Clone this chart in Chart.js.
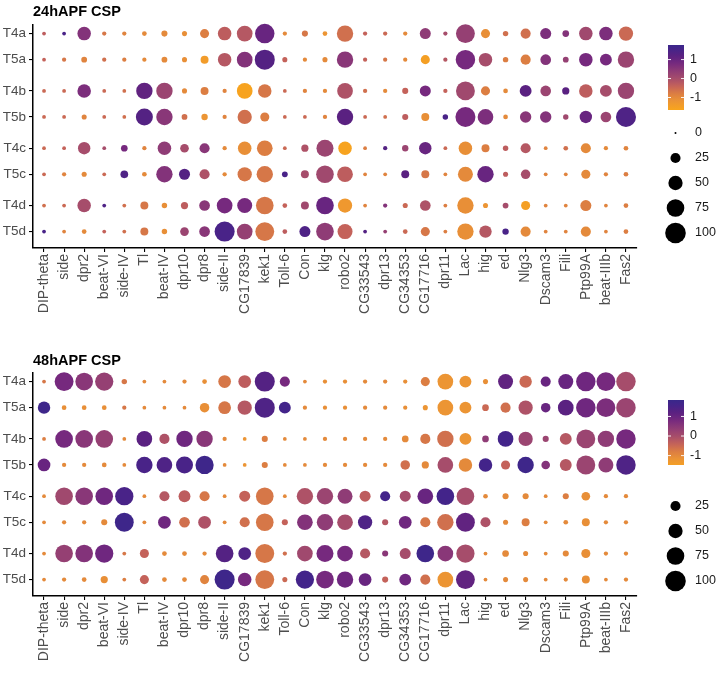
<!DOCTYPE html>
<html><head><meta charset="utf-8">
<script src="https://cdn.jsdelivr.net/npm/chart.js@4.4.0/dist/chart.umd.min.js"></script>
<style>html,body{margin:0;padding:0;background:#fff;overflow:hidden;}
#c1{position:absolute;left:0;top:0;} #c2{position:absolute;left:0;top:338px;}</style>
</head><body>
<canvas id="c1" width="718" height="338"></canvas>
<canvas id="c2" width="718" height="338"></canvas>
<script>
// ---------- categories ----------
const genes = ['DIP-theta','side','dpr2','beat-VI','side-IV','Tl','beat-IV','dpr10','dpr8','side-II','CG17839','kek1','Toll-6','Con','klg','robo2','CG33543','dpr13','CG34353','CG17716','dpr11','Lac','hig','ed','Nlg3','Dscam3','Fili','Ptp99A','beat-IIIb','Fas2'];
const cellTypes = ['T4a','T5a','T4b','T5b','T4c','T5c','T4d','T5d'];
const colorTicks = [1, 0, -1];
const sizeBreaks24 = [0, 25, 50, 75, 100];
const sizeBreaks48 = [25, 50, 75, 100];

// ---------- 24hAPF: percent expressed ----------
const pct24_T4a = [2,2,45,3,3,4,8,5,20,45,60,90,3,8,4,65,3,3,3,30,3,85,20,6,25,30,10,45,45,50];
const pct24_T5a = [2,3,7,3,3,3,7,5,15,45,60,95,5,3,5,65,3,3,3,20,3,90,45,6,25,28,7,45,35,65];
const pct24_T4b = [2,2,45,2,2,65,65,5,15,3,60,45,2,3,3,60,3,3,8,30,3,85,20,4,35,28,12,45,35,65];
const pct24_T5b = [2,2,5,2,2,70,65,7,9,3,50,20,2,2,3,65,2,2,8,15,6,95,60,4,32,32,6,38,28,95];
const pct24_T4c = [2,2,38,2,10,3,45,18,25,3,45,60,2,12,70,45,2,3,9,38,2,45,15,6,25,2,4,25,3,4];
const pct24_T5c = [2,3,5,2,14,4,65,30,25,3,50,65,7,15,75,60,2,2,15,15,2,55,65,5,22,2,2,20,3,4];
const pct24_T4d = [2,2,45,2,2,15,6,12,28,60,55,75,4,15,75,50,2,3,5,28,2,65,5,7,20,2,2,30,2,4];
const pct24_T5d = [2,2,4,2,2,15,6,18,28,95,60,85,4,30,75,55,2,2,4,20,2,65,38,9,25,2,2,25,2,4];
// ---------- 24hAPF: scaled average expression ----------
const avg24_T4a = [-0.3,1.5,0.6,-0.7,-0.9,-1,-1,-1.1,-0.8,-0.3,-0.2,1.0,-1,-0.7,-1.2,-0.6,-0.4,-0.5,-1,0.4,0,0.3,-1.1,-0.6,-0.6,0.7,0.6,0.1,0.7,-0.5];
const avg24_T5a = [-0.4,-0.7,-0.9,-0.6,-0.8,-1,-1,-1.1,-1.4,-0.2,0.6,1.3,-0.4,-1,-1,0.5,-0.4,-0.7,-1,-1.5,-0.2,0.8,0,-0.8,-0.8,0.6,0.3,0.8,0.8,0.2];
const avg24_T4b = [-0.5,-0.5,0.7,-0.5,-0.6,1.1,0.2,-1,-0.8,-0.9,-1.6,-0.7,-0.5,-0.9,-1,-0.1,-0.6,-1,-0.4,0.8,-0.4,0.1,-0.8,-1,1.2,0.2,1.2,-0.3,0,0.2];
const avg24_T5b = [-0.5,-0.5,-0.9,-0.5,-0.6,1.3,0.5,-0.6,-1.2,-0.9,-0.6,-0.8,-0.5,-0.5,-0.9,1.2,-0.5,-0.6,-0.3,-1.1,1.5,0.8,0.7,-1,0.5,0.6,0.1,1.0,0.2,1.4];
const avg24_T4c = [-0.5,-0.4,0,0,0.8,-0.9,0.4,0,0.5,-1,-1.1,-0.8,-0.5,-0.1,0.2,-1.6,-0.8,1.3,0.2,1.0,-0.5,-1.1,-0.8,-0.3,-0.2,-0.9,-0.6,-1.0,-1,-0.9];
const avg24_T5c = [-0.5,-0.9,-1,-0.5,1.4,-1,0.6,1.3,-0.1,-1,-0.7,-0.7,1.5,0,0.1,-0.3,-0.9,-0.9,1.2,-0.7,-0.9,-1.0,1.0,-0.3,0,-0.9,-0.9,-1,-0.9,-0.8];
const avg24_T4d = [-0.6,-0.5,0,1.4,-0.6,-0.7,-1.1,-0.3,0.5,0.8,0.8,-0.7,-0.4,0.1,1.0,-1.3,-0.9,0.6,-0.5,-0.1,-0.8,-1.1,-1.2,0,-1.5,-0.9,-0.9,-0.8,-0.9,-0.8];
const avg24_T5d = [1.5,-0.9,-1,-0.4,-0.6,-0.7,-1.1,0.2,0.5,1.5,0.3,-0.7,-0.3,1.4,0.4,-0.4,1.3,0.3,-0.5,-0.7,-0.8,-1.1,-0.2,1.5,-1,-0.9,-0.9,-1,-0.9,-0.8];

// ---------- 48hAPF: percent expressed ----------
const pct48_T4a = [2,85,75,80,6,2,2,3,4,40,40,95,25,2,3,3,3,3,3,20,60,35,5,55,38,25,55,90,85,90];
const pct48_T5a = [38,4,4,4,3,2,2,2,22,40,50,95,35,3,3,3,3,3,3,5,60,35,10,25,50,22,60,90,85,90];
const pct48_T4b = [2,75,75,75,2,60,25,65,65,3,2,8,2,2,3,3,3,3,10,25,65,35,10,60,50,8,35,85,65,90];
const pct48_T5b = [40,3,3,4,2,65,60,70,80,2,2,8,2,2,3,3,3,3,22,12,60,45,45,20,65,18,35,85,55,90];
const pct48_T4c = [2,75,75,75,80,2,25,35,25,2,30,75,2,65,65,55,30,25,30,60,75,75,4,8,8,2,8,18,3,3];
const pct48_T5c = [2,3,3,8,85,2,40,28,40,2,25,75,8,60,65,60,50,8,40,25,65,85,25,5,15,2,4,15,3,3];
const pct48_T4d = [2,75,75,80,2,20,4,4,3,75,40,85,3,60,70,60,25,8,30,75,60,80,2,10,5,2,8,20,3,3];
const pct48_T5d = [2,3,4,12,2,20,4,4,20,95,45,85,5,80,75,65,40,8,35,25,60,85,2,5,5,2,3,15,2,3];
// ---------- 48hAPF: scaled average expression ----------
const avg48_T4a = [-0.7,0.8,0.5,0.3,-0.7,-1,-1,-1,-1.1,-0.7,-0.3,1.3,0.8,-1,-1.1,-1.1,-1,-1,-1.1,-0.8,-1.2,-1.2,-1.1,1.1,-0.5,1.0,1.0,0.9,0.8,0.0];
const avg48_T5a = [1.7,-1.1,-1.1,-1.1,-0.7,-1,-1,-1,-1.1,-0.7,-0.2,1.4,1.6,-1,-1.1,-1.1,-1,-1,-1.1,-1.2,-1.2,-1.2,-0.5,-0.6,-0.1,1.0,1.2,0.9,0.7,0.2];
const avg48_T4b = [-0.8,0.8,0.5,0.3,-1,1.2,-0.1,0.9,0.5,-1,-1.2,-0.8,-1,-1,-1,-1,-1,-1,-1,-0.7,-0.6,-1.2,0.4,1.6,0.2,0.2,-0.2,0.2,0.4,0.8];
const avg48_T5b = [1.0,-1,-1,-1,-1,1.5,1.4,1.5,1.7,-1,-1.2,-0.8,-1,-1,-1,-1,-1,-1,-0.6,-1,0.0,-1,1.6,-0.4,1.7,0.6,-0.2,0.2,0.4,1.4];
const avg48_T4c = [-1,0.1,0.5,0.9,1.5,-1,-0.2,-0.3,-0.7,-1,-0.4,-0.7,-1,-0.1,0.2,0.4,-0.3,1.6,0,1.0,1.6,0,-1,-1,-1,-1,-0.8,-1.1,-1,-1];
const avg48_T5c = [-1,-1,-1,-1,1.7,-1,0.9,-0.6,-0.1,-1,-0.6,-0.7,-0.4,0.6,0.4,0,1.4,-0.2,0.9,-0.7,-0.6,1.1,-0.1,-1,-0.8,-1,-1,-1.1,-1,-1];
const avg48_T4d = [-1,0.3,0.6,0.9,-0.7,-0.4,-1,-1,-1,1.3,1.4,-0.7,-0.6,0.1,0.8,0.8,-0.2,0.5,0,1.7,0.5,0,-1,-1,-1,-1,-1,-1.1,-1,-1];
const avg48_T5d = [-1,-1,-1,-1.1,-0.8,-0.4,-1,-1,-0.9,1.7,0.8,-0.7,-0.5,1.6,0.8,0.9,1.0,-0.4,0.9,-0.6,-1.2,1.1,-1,-1,-1,-1,-1,-1.1,-1,-1];

// ---------- styling helpers ----------
const pal = [[-1.7,'#FAA61A'],[-1.2,'#EC9534'],[-0.8,'#DC7E42'],[-0.4,'#C4625A'],[0.0,'#A64D6B'],[0.4,'#8F3C76'],[0.8,'#76297E'],[1.2,'#5A2181'],[1.6,'#43248A'],[1.9,'#35298A']];
function hex2rgb(h){return [parseInt(h.slice(1,3),16),parseInt(h.slice(3,5),16),parseInt(h.slice(5,7),16)];}
function zColor(z){
  if (z <= pal[0][0]) return pal[0][1];
  for (let i=1;i<pal.length;i++){
    if (z <= pal[i][0]){
      const t=(z-pal[i-1][0])/(pal[i][0]-pal[i-1][0]);
      const a=hex2rgb(pal[i-1][1]), b=hex2rgb(pal[i][1]);
      return 'rgb('+a.map((v,k)=>Math.round(v+(b[k]-v)*t)).join(',')+')';
    }
  }
  return pal[pal.length-1][1];
}
function pctRadius(p){ return 1 + 9.3*Math.pow(Math.max(p,0)/100, 0.6); }
function rowPos(i){ return i + 0.2*Math.floor(i/2); }

function buildPoints(pcts, avgs){
  const pts=[];
  cellTypes.forEach((ct,i)=>{ genes.forEach((g,j)=>{ pts.push({x:j, y:rowPos(i), pct:pcts[i][j], z:avgs[i][j]}); }); });
  return pts;
}

const legendPlugin = {
  id:'dotLegend',
  afterDraw(chart, args, o){
    const ctx=chart.ctx; ctx.save();
    // title
    ctx.fillStyle='#000'; ctx.font='bold 14.5px "Liberation Sans", Arial, sans-serif';
    ctx.textAlign='left'; ctx.textBaseline='alphabetic';
    ctx.fillText(o.title, 33, o.titleY);
    // colour bar
    const bx=668, bw=16, bt=o.barTop, bh=o.barH;
    const g=ctx.createLinearGradient(0,bt,0,bt+bh);
    for(let k=0;k<=20;k++){ const z=o.zmax-(o.zmax-o.zmin)*k/20; g.addColorStop(k/20, zColor(z)); }
    ctx.fillStyle=g; ctx.fillRect(bx,bt,bw,bh);
    ctx.font='12.5px "Liberation Sans", Arial, sans-serif'; ctx.textBaseline='middle';
    colorTicks.forEach(v=>{
      const y=bt+(o.zmax-v)/(o.zmax-o.zmin)*bh;
      ctx.strokeStyle='rgba(255,255,255,0.9)'; ctx.lineWidth=1;
      ctx.beginPath(); ctx.moveTo(bx,y); ctx.lineTo(bx+3,y); ctx.moveTo(bx+bw-3,y); ctx.lineTo(bx+bw,y); ctx.stroke();
      ctx.fillStyle='#1a1a1a'; ctx.fillText(String(v), 690, y);
    });
    // size legend
    o.sizes.forEach((s,k)=>{
      const y=o.sizeTop+25*k;
      ctx.fillStyle='#000'; ctx.beginPath(); ctx.arc(675.5,y,pctRadius(s),0,Math.PI*2); ctx.fill();
      ctx.fillStyle='#1a1a1a'; ctx.fillText(String(s), 695, y);
    });
    ctx.restore();
  }
};

function makeChart(id, pcts, avgs, lg, padTop, xHeight){
  const axisFont={family:'"Liberation Sans", Arial, sans-serif', size:13.5};
  return new Chart(document.getElementById(id), {
    type:'scatter',
    data:{datasets:[{data:buildPoints(pcts,avgs), clip:false,
      pointRadius:c=>pctRadius(c.raw.pct), pointHoverRadius:c=>pctRadius(c.raw.pct),
      pointBackgroundColor:c=>zColor(c.raw.z), pointBorderWidth:0, pointBorderColor:'rgba(0,0,0,0)'}]},
    options:{
      responsive:false, animation:false, devicePixelRatio:1,
      layout:{padding:{top:padTop,right:81,left:0,bottom:0}},
      plugins:{legend:{display:false}, tooltip:{enabled:false}, dotLegend:lg},
      scales:{
        x:{type:'linear', min:-0.55, max:29.55,
          afterBuildTicks:s=>{s.ticks=genes.map((g,i)=>({value:i}));},
          afterFit:s=>{s.height=xHeight;},
          ticks:{autoSkip:false, minRotation:90, maxRotation:90, padding:2, color:'#4D4D4D', font:{...axisFont, size:14},
            callback:(v)=>genes[v]},
          grid:{display:true, drawOnChartArea:false, drawTicks:true, tickLength:4, color:'#000', lineWidth:1.1},
          border:{display:true, color:'#000', width:1.5}},
        y:{type:'linear', reverse:true, min:-0.33, max:8.23,
          afterBuildTicks:s=>{s.ticks=cellTypes.map((c,i)=>({value:rowPos(i)}));},
          afterFit:s=>{s.width=33;},
          ticks:{autoSkip:false, padding:3, color:'#4D4D4D', font:axisFont,
            callback:(v,idx)=>cellTypes[idx]},
          grid:{display:true, drawOnChartArea:false, drawTicks:true, tickLength:4, color:'#000', lineWidth:1.1},
          border:{display:true, color:'#000', width:1.5}}
      }
    },
    plugins:[legendPlugin]
  });
}

makeChart('c1',
  [pct24_T4a,pct24_T5a,pct24_T4b,pct24_T5b,pct24_T4c,pct24_T5c,pct24_T4d,pct24_T5d],
  [avg24_T4a,avg24_T5a,avg24_T4b,avg24_T5b,avg24_T4c,avg24_T5c,avg24_T4d,avg24_T5d],
  {title:'24hAPF CSP', titleY:15.5, barTop:45, barH:65, zmax:1.77, zmin:-1.66, sizes:sizeBreaks24, sizeTop:133},
  25, 90);
makeChart('c2',
  [pct48_T4a,pct48_T5a,pct48_T4b,pct48_T5b,pct48_T4c,pct48_T5c,pct48_T4d,pct48_T5d],
  [avg48_T4a,avg48_T5a,avg48_T4b,avg48_T5b,avg48_T4c,avg48_T5c,avg48_T4d,avg48_T5d],
  {title:'48hAPF CSP', titleY:27, barTop:62, barH:65, zmax:1.84, zmin:-1.48, sizes:sizeBreaks48, sizeTop:168},
  35, 80);
</script>
</body></html>
